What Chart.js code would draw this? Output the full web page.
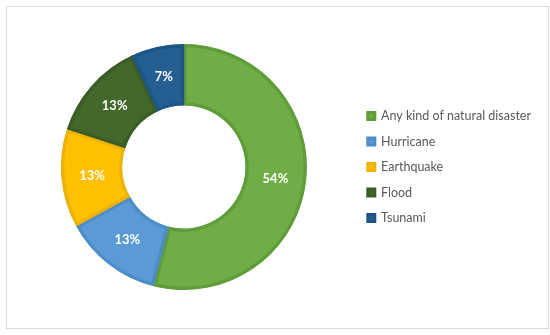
<!DOCTYPE html>
<html>
<head>
<meta charset="utf-8">
<script src="https://cdn.jsdelivr.net/npm/chart.js@4/dist/chart.umd.min.js"></script>
<style>
  body { margin: 0; background: #fff; }
  #frame { position: absolute; left: 6px; top: 6px; width: 541px; height: 321px; border: 1px solid #d9d9d9; }
  #chart { position: absolute; left: 0; top: 0; }
</style>
</head>
<body>
<div id="frame"></div>
<canvas id="chart" width="550" height="335"></canvas>
<script>
// Dados
const categorias = ['Any kind of natural disaster', 'Hurricane', 'Earthquake', 'Flood', 'Tsunami'];
const percentuais = [54, 13, 13, 13, 7];
const cores = ['#70AD47', '#5B9BD5', '#FFC000', '#43682B', '#255E91'];
const bordas = ['#609C3A', '#4C8DC8', '#EDB20A', '#3A5C25', '#1F5486'];

// Rótulos de porcentagem dentro das fatias
const rotulosPlugin = {
  id: 'rotulos',
  afterDatasetsDraw(chart) {
    const ctx = chart.ctx;
    const meta = chart.getDatasetMeta(0);
    ctx.save();
    ctx.fillStyle = '#ffffff';
    ctx.font = 'bold 13px Lato';
    ctx.textAlign = 'center';
    ctx.textBaseline = 'middle';
    meta.data.forEach((arc, i) => {
      const p = arc.getCenterPoint();
      ctx.fillText(percentuais[i] + '%', p.x, p.y);
    });
    ctx.restore();
  }
};

new Chart(document.getElementById('chart'), {
  type: 'doughnut',
  data: {
    labels: categorias,
    datasets: [{
      data: percentuais,
      backgroundColor: cores,
      borderColor: bordas,
      borderWidth: 3,
      borderAlign: 'inner'
    }]
  },
  options: {
    responsive: false,
    animation: false,
    cutout: '50%',
    layout: {
      padding: { left: 13, right: 9, top: 44, bottom: 45 }
    },
    plugins: {
      tooltip: { enabled: false },
      legend: {
        position: 'right',
        align: 'center',
        labels: {
          boxWidth: 7,
          boxHeight: 7,
          padding: 13,
          color: '#595959',
          font: { family: 'Lato', size: 12.5 }
        }
      }
    }
  },
  plugins: [rotulosPlugin]
});
</script>
</body>
</html>
